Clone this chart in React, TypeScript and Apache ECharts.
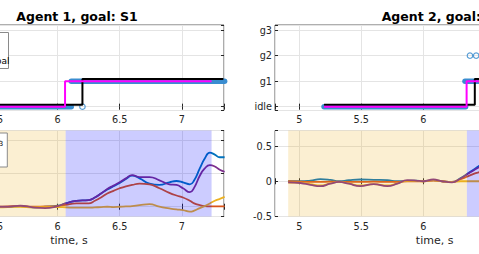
import React, { useEffect, useRef } from 'react';
import * as echarts from 'echarts';

// ---------- data ----------
const stateNames = ['idle', 'g1', 'g2', 'g3'];

// Agent 1 (left column) – discrete states
const a1PlanSteps = [[4.95, 0], [6.06, 1], [7.24, 1]];
const a1ActualSteps = [[4.95, 0], [6.2, 1], [7.335, 1]];
const a1ObsSegments = [[4.95, 6.11, 0], [6.11, 7.345, 1]];
const a1ObsPoints = [[6.2, 0]];
const a1Phases = [[4.911, 6.065], [6.065, 7.24]];

// Agent 2 (right column) – discrete states
const a2PlanSteps = [[5.2, 0], [6.348, 1], [7.3, 1]];
const a2ActualSteps = [[5.2, 0], [6.414, 1], [7.3, 1]];
const a2ObsSegments = [[5.2, 6.34, 0], [6.335, 7.3, 1]];
const a2ObsPoints = [[6.375, 2], [6.425, 2], [6.475, 2]];
const a2Phases = [[4.911, 6.35], [6.35, 7.3]];

// Agent 1 – continuous signals
const a1Time = [4.91, 5.0, 5.1, 5.2, 5.3, 5.4, 5.5, 5.6, 5.7, 5.8, 5.9, 6.0, 6.065, 6.15, 6.25, 6.3, 6.35, 6.4, 6.45, 6.5, 6.55, 6.6, 6.66, 6.74, 6.82, 6.9, 6.957, 7.01, 7.065, 7.1, 7.145, 7.185, 7.226, 7.266, 7.306, 7.345];
const a1Blue = [0.0, -0.01, 0.01, 0.0, -0.01, 0.01, 0.0, -0.005, 0.01, -0.01, 0.0, 0.015, 0.05, 0.09, 0.1, 0.14, 0.2, 0.26, 0.31, 0.36, 0.42, 0.47, 0.43, 0.35, 0.33, 0.37, 0.39, 0.37, 0.34, 0.4, 0.58, 0.73, 0.82, 0.79, 0.75, 0.75];
const a1Red = [0.0, 0.005, 0.0, 0.005, 0.0, 0.005, 0.0, 0.005, 0.01, 0.0, 0.005, 0.01, 0.03, 0.05, 0.05, 0.09, 0.14, 0.2, 0.24, 0.28, 0.31, 0.33, 0.35, 0.34, 0.28, 0.21, 0.17, 0.14, 0.09, 0.05, 0.025, 0.01, 0.005, 0.005, 0.005, 0.005];
const a1Yellow = [0.0, -0.005, -0.01, -0.005, 0.0, -0.005, -0.01, -0.005, 0.0, -0.01, -0.005, -0.005, -0.01, -0.015, -0.015, -0.01, -0.005, 0.0, -0.005, 0.0, 0.005, 0.01, 0.025, 0.04, 0.0, -0.025, -0.04, -0.05, -0.075, -0.06, -0.02, 0.01, 0.05, 0.09, 0.12, 0.15];
const a1Purple = [0.0, 0.01, -0.01, 0.005, -0.01, 0.01, 0.0, 0.0, 0.015, -0.01, -0.02, 0.01, 0.05, 0.09, 0.1, 0.14, 0.2, 0.27, 0.32, 0.37, 0.43, 0.48, 0.45, 0.45, 0.4, 0.34, 0.33, 0.28, 0.22, 0.29, 0.47, 0.58, 0.63, 0.61, 0.56, 0.53];

// Agent 2 – continuous signals
const a2Time = [4.911, 5.01, 5.09, 5.17, 5.25, 5.32, 5.4, 5.49, 5.6, 5.71, 5.79, 5.87, 5.94, 6.0, 6.08, 6.15, 6.23, 6.3, 6.345, 6.4, 6.45, 6.5];
const a2Blue = [0.0, 0.0, 0.01, 0.03, 0.02, 0.0, 0.015, 0.025, 0.02, 0.015, 0.0, 0.005, 0.01, 0.0, 0.015, 0.0, -0.01, 0.045, 0.095, 0.16, 0.22, 0.27];
const a2Red = [0.0, -0.005, -0.01, -0.01, -0.005, -0.005, -0.01, -0.01, -0.005, -0.01, -0.01, 0.0, 0.0, 0.0, 0.01, 0.0, -0.01, 0.03, 0.06, 0.1, 0.13, 0.16];
const a2Yellow = [-0.02, -0.02, -0.04, -0.06, -0.03, -0.01, -0.03, -0.06, -0.04, -0.06, -0.03, 0.005, 0.005, 0.0, 0.015, 0.0, -0.01, 0.0, 0.0, 0.0, 0.0, 0.0];
const a2Purple = [-0.015, -0.025, -0.05, -0.07, -0.035, -0.01, -0.035, -0.07, -0.04, -0.07, -0.035, 0.015, 0.01, 0.0, 0.025, 0.0, -0.015, 0.04, 0.09, 0.15, 0.2, 0.25];

// ---------- styling ----------
const FONT = 'DejaVu Sans';
const TXT = '#262626';
const TICK_FS = 9.7;
const X_MIN = 4.805;
const X_MAX = 7.34;
const RIGHT_VISIBLE_MAX = 6.4; // right column is cropped by the window edge
const ACTUAL_OFFSET = 0.08;
const COLORS = { blue: '#0072BD', red: '#D95319', yellow: '#EDB120', purple: '#7E2F8E' };

const isMultiple = (v: number, step: number) => Math.abs(v / step - Math.round(v / step)) < 1e-6;
const fmtNum = (v: number) => (isMultiple(v, 0.5) ? String(Math.round(v * 10) / 10) : '');
const fmtRight = (v: number) => (v > RIGHT_VISIBLE_MAX ? '' : fmtNum(v));

const grids = [
  { left: -90.8, top: 25, width: 314.8, height: 85.5 },
  { left: 275, top: 25, width: 314.8, height: 85.5 },
  { left: -90.8, top: 130.5, width: 314.8, height: 86 },
  { left: 275, top: 130.5, width: 314.8, height: 86 },
].map((g) => ({
  ...g, show: true, borderColor: '#5e5e5e', borderWidth: 1, backgroundColor: 'transparent',
  containLabel: false, outerBoundsMode: 'none',
}));

const tick = { show: true, inside: true, length: 3, lineStyle: { color: TXT } };
const split = { show: true, lineStyle: { color: '#e4e4e4', width: 1 } };

const xAxes: any[] = [];
const yAxes: any[] = [];
for (let g = 0; g < 4; g++) {
  xAxes.push({
    type: 'value', gridIndex: g, position: 'bottom', min: X_MIN, max: X_MAX, splitNumber: 5,
    axisLine: { show: false }, axisTick: tick, splitLine: split,
    axisLabel: { show: true, margin: g < 2 ? 4 : 5, fontSize: TICK_FS, fontFamily: FONT, color: TXT, formatter: g % 2 === 1 ? fmtRight : fmtNum },
  });
}
for (let g = 0; g < 4; g++) {
  xAxes.push({
    type: 'value', gridIndex: g, position: 'top', min: X_MIN, max: X_MAX, splitNumber: 5,
    axisLine: { show: false }, axisTick: tick, splitLine: { show: false }, axisLabel: { show: false },
  });
}
const yRanges = [
  { min: -0.15, max: 3.2, splitNumber: 3 },
  { min: -0.15, max: 3.2, splitNumber: 3 },
  { min: -0.148, max: 1.155, splitNumber: 3 },
  { min: -0.5, max: 0.72, interval: 0.5 },
];
const stateFmt = (v: number) => (isMultiple(v, 1) ? stateNames[Math.round(v)] ?? '' : '');
for (let g = 0; g < 4; g++) {
  // left column's y labels lie entirely outside the visible area
  const labelsVisible = g % 2 === 1;
  yAxes.push({
    type: 'value', gridIndex: g, position: 'left', ...yRanges[g],
    axisLine: { show: false }, axisTick: tick, splitLine: split,
    axisLabel: { show: labelsVisible, margin: 3, fontSize: TICK_FS, fontFamily: FONT, color: TXT, formatter: g < 2 ? stateFmt : fmtNum },
  });
}
for (let g = 0; g < 4; g++) {
  yAxes.push({
    type: 'value', gridIndex: g, position: 'right', ...yRanges[g],
    axisLine: { show: false }, axisTick: tick, splitLine: { show: false }, axisLabel: { show: false },
  });
}

function stateSeries(g: number, obsSeg: number[][], obsPts: number[][], plan: number[][], actual: number[][]) {
  const out: any[] = [];
  obsSeg.forEach((s) => {
    out.push({
      type: 'line', xAxisIndex: g, yAxisIndex: g, clip: false, symbol: 'none', z: 2,
      data: [[s[0], s[2]], [s[1], s[2]]],
      lineStyle: { color: '#3a8dd0', width: 5.5, cap: 'round' },
    });
  });
  out.push({
    type: 'scatter', xAxisIndex: g, yAxisIndex: g, symbol: 'circle', symbolSize: 5.5, z: 2,
    data: obsPts,
    itemStyle: { color: 'rgba(0,0,0,0)', borderColor: '#2f86cc', borderWidth: 1.2 },
  });
  out.push({
    type: 'line', xAxisIndex: g, yAxisIndex: g, step: 'end', symbol: 'none', z: 3,
    data: actual.map((p) => [p[0], p[1] + ACTUAL_OFFSET]),
    lineStyle: { color: '#000', width: 2 },
  });
  out.push({
    type: 'line', xAxisIndex: g, yAxisIndex: g, step: 'end', symbol: 'none', z: 4,
    data: plan,
    lineStyle: { color: '#ff00ff', width: 2 },
  });
  return out;
}

function signalSeries(g: number, t: number[], sets: [number[], string][], phases: number[][]) {
  const out: any[] = sets.map(([vals, color]) => ({
    type: 'line', xAxisIndex: g, yAxisIndex: g, symbol: 'none', smooth: 0.5, z: 2,
    data: t.map((tt, i) => [tt, vals[i]]),
    lineStyle: { color, width: 1.8 },
  }));
  out.push({
    type: 'line', xAxisIndex: g, yAxisIndex: g, data: [], z: 10,
    markArea: {
      silent: true, z: 10,
      data: [
        [{ xAxis: phases[0][0], itemStyle: { color: 'rgba(237,177,32,0.2)' } }, { xAxis: phases[0][1] }],
        [{ xAxis: phases[1][0], itemStyle: { color: 'rgba(0,0,255,0.2)' } }, { xAxis: phases[1][1] }],
      ],
    },
  });
  return out;
}

const series = [
  ...stateSeries(0, a1ObsSegments, a1ObsPoints, a1PlanSteps, a1ActualSteps),
  ...stateSeries(1, a2ObsSegments, a2ObsPoints, a2PlanSteps, a2ActualSteps),
  ...signalSeries(2, a1Time, [[a1Blue, COLORS.blue], [a1Red, COLORS.red], [a1Yellow, COLORS.yellow], [a1Purple, COLORS.purple]], a1Phases),
  ...signalSeries(3, a2Time, [[a2Blue, COLORS.blue], [a2Red, COLORS.red], [a2Yellow, COLORS.yellow], [a2Purple, COLORS.purple]], a2Phases),
];

const graphic = [
  { type: 'text', x: 77, y: 16, z: 100, style: { text: 'Agent 1, goal: S1', fontFamily: FONT, fontWeight: 'bold', fontSize: 12.5, fill: '#000', align: 'center', verticalAlign: 'middle' } },
  { type: 'text', x: 381.7, y: 16, z: 100, style: { text: 'Agent 2, goal: S2', fontFamily: FONT, fontWeight: 'bold', fontSize: 12.5, fill: '#000', align: 'left', verticalAlign: 'middle' } },
  { type: 'text', x: 69, y: 240, z: 100, style: { text: 'time, s', fontFamily: FONT, fontSize: 11, fill: TXT, align: 'center', verticalAlign: 'middle' } },
  { type: 'text', x: 434.6, y: 240, z: 100, style: { text: 'time, s', fontFamily: FONT, fontSize: 11, fill: TXT, align: 'center', verticalAlign: 'middle' } },
  { type: 'rect', z: 100, shape: { x: -60, y: 32.5, width: 68.5, height: 36 }, style: { fill: '#fff', stroke: '#8a8a8a', lineWidth: 1 } },
  { type: 'text', x: 9.5, y: 61, z: 101, style: { text: 'goal', fontFamily: FONT, fontSize: 9, fill: '#000', align: 'right', verticalAlign: 'middle' } },
  { type: 'rect', z: 100, shape: { x: -60, y: 133, width: 67.3, height: 34 }, style: { fill: '#fff', stroke: '#8a8a8a', lineWidth: 1 } },
  { type: 'text', x: 3.3, y: 144, z: 101, style: { text: 'e3', fontFamily: FONT, fontSize: 7, fill: '#000', align: 'right', verticalAlign: 'middle' } },
];

const option = {
  animation: false,
  textStyle: { fontFamily: FONT },
  grid: grids,
  xAxis: xAxes,
  yAxis: yAxes,
  series,
  graphic,
};

export default function App() {
  const ref = useRef<HTMLDivElement>(null);
  useEffect(() => {
    const chart = echarts.init(ref.current as HTMLDivElement, null, { renderer: 'svg' });
    chart.setOption(option as any);
    return () => chart.dispose();
  }, []);
  return <div ref={ref} style={{ position: 'fixed', left: 0, top: 0, width: 479, height: 254, background: '#fff' }} />;
}
